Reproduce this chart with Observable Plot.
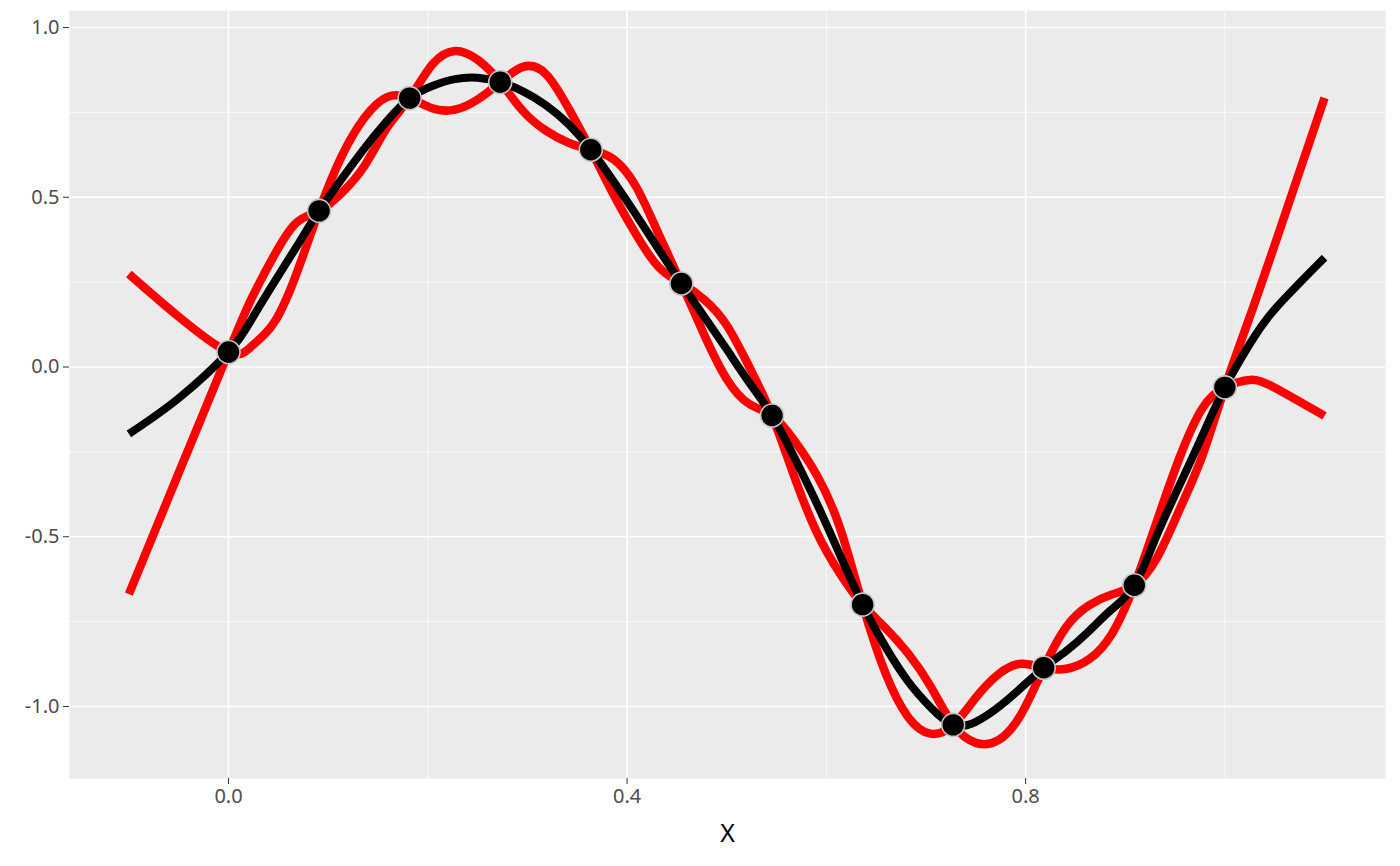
<!DOCTYPE html>
<html>
<head>
<meta charset="utf-8">
<script src="https://cdn.jsdelivr.net/npm/d3@7"></script>
<script src="https://cdn.jsdelivr.net/npm/@observablehq/plot@0.6"></script>
<style>
  html, body { margin: 0; padding: 0; background: #fff; }
</style>
</head>
<body>
<div id="chart"></div>
<script>
// observed points
var pointX = [0, 0.0909, 0.1818, 0.2727, 0.3636, 0.4545, 0.5455, 0.6364, 0.7273, 0.8182, 0.9091, 1.0]
var pointY = [0.044, 0.460, 0.792, 0.839, 0.640, 0.246, -0.143, -0.700, -1.054, -0.886, -0.643, -0.060]

var curveX = [-0.1, -0.05,
  0.0000, 0.0227, 0.0455, 0.0682,
  0.0909, 0.1136, 0.1364, 0.1591,
  0.1818, 0.2045, 0.2273, 0.2500,
  0.2727, 0.2955, 0.3182, 0.3409,
  0.3636, 0.3864, 0.4091, 0.4318,
  0.4545, 0.4773, 0.5000, 0.5227,
  0.5455, 0.5682, 0.5909, 0.6136,
  0.6364, 0.6591, 0.6818, 0.7045,
  0.7273, 0.7500, 0.7727, 0.7955,
  0.8182, 0.8409, 0.8636, 0.8864,
  0.9091, 0.9318, 0.9545, 0.9773,
  1.0000, 1.025, 1.05, 1.1]

var blackY = [-0.197, -0.092,
  0.044, 0.138, 0.248, 0.354,
  0.460, 0.554, 0.644, 0.725,
  0.792, 0.828, 0.848, 0.852,
  0.839, 0.812, 0.772, 0.716,
  0.640, 0.547, 0.448, 0.346,
  0.246, 0.149, 0.052, -0.046,
  -0.143, -0.268, -0.405, -0.553,
  -0.700, -0.823, -0.925, -1.002,
  -1.054, -1.045, -1.002, -0.945,
  -0.886, -0.836, -0.778, -0.714,
  -0.643, -0.495, -0.348, -0.203,
  -0.060, 0.068, 0.170, 0.322]

var redAY = [0.274, 0.148,
  0.044, 0.060, 0.130, 0.275,
  0.460, 0.621, 0.734, 0.795,
  0.792, 0.762, 0.758, 0.788,
  0.839, 0.884, 0.864, 0.764,
  0.640, 0.508, 0.390, 0.294,
  0.246, 0.199, 0.123, 0.000,
  -0.143, -0.326, -0.490, -0.608,
  -0.700, -0.768, -0.843, -0.940,
  -1.054, -1.107, -1.099, -1.023,
  -0.886, -0.765, -0.702, -0.670,
  -0.643, -0.562, -0.420, -0.262,
  -0.060, 0.148, 0.360, 0.793]

var redBY = [-0.669, -0.312,
  0.044, 0.199, 0.327, 0.425,
  0.460, 0.513, 0.592, 0.705,
  0.792, 0.891, 0.931, 0.905,
  0.839, 0.754, 0.697, 0.661,
  0.640, 0.612, 0.531, 0.391,
  0.246, 0.096, -0.035, -0.109,
  -0.143, -0.218, -0.321, -0.473,
  -0.700, -0.900, -1.030, -1.080,
  -1.054, -0.974, -0.905, -0.874,
  -0.886, -0.889, -0.861, -0.787,
  -0.643, -0.454, -0.267, -0.122,
  -0.060, -0.038, -0.061, -0.144]

var xTicks = [0.0, 0.4, 0.8]
var xMinor = [0.2, 0.6, 1.0]
var yTicks = [-1.0, -0.5, 0.0, 0.5, 1.0]
var yMinor = [-0.75, -0.25, 0.25, 0.75]

function rows(ys) {
    return curveX.map((x, i) => ({x: x, y: ys[i]}))
}

let points = pointX.map((x, i) => ({x: x, y: pointY[i]}))
let lineStyle = {x: "x", y: "y", curve: "natural", strokeLinecap: "butt", strokeLinejoin: "round"}

let plot = Plot.plot({
    width: 1400,
    height: 866,
    marginTop: 10,
    marginRight: 15,
    marginBottom: 88,
    marginLeft: 69,
    style: {fontFamily: "'Noto Sans', sans-serif", background: "#fff"},
    x: {domain: [-0.1596, 1.1612]},
    y: {domain: [-1.2121, 1.0501]},
    marks: [
        Plot.frame({fill: "#EBEBEB", stroke: null}),
        Plot.ruleX(xMinor, {stroke: "#fff", strokeWidth: 0.8}),
        Plot.ruleY(yMinor, {stroke: "#fff", strokeWidth: 0.8}),
        Plot.ruleX(xTicks, {stroke: "#fff", strokeWidth: 1.6}),
        Plot.ruleY(yTicks, {stroke: "#fff", strokeWidth: 1.6}),
        Plot.line(rows(redAY), {...lineStyle, stroke: "#FF0000", strokeWidth: 8.5}),
        Plot.line(rows(redBY), {...lineStyle, stroke: "#FF0000", strokeWidth: 8.5}),
        Plot.line(rows(blackY), {...lineStyle, stroke: "#000", strokeWidth: 8}),
        Plot.dot(points, {x: "x", y: "y", r: 11.5, fill: "#000", stroke: "#c4c4c4", strokeWidth: 1.6}),
        Plot.axisX(xTicks, {tickSize: 6, tickPadding: 4, fontSize: 20, stroke: "#333", fill: "#4d4d4d",
            tickFormat: d => d.toFixed(1), label: null}),
        Plot.axisY(yTicks, {tickSize: 6, tickPadding: 4, fontSize: 20, stroke: "#333", fill: "#4d4d4d",
            tickFormat: d => d.toFixed(1), label: null}),
        Plot.text(["X"], {frameAnchor: "bottom", dy: 55, fontSize: 25, fill: "#000", lineAnchor: "middle"})
    ]
})

document.getElementById("chart").append(plot)
</script>
</body>
</html>
